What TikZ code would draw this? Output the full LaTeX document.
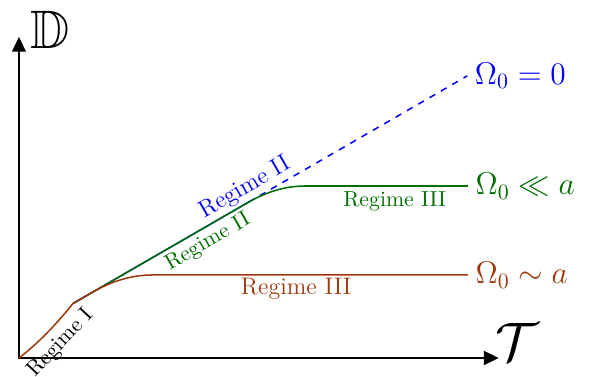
\documentclass[tikz,border=0pt]{standalone}
\usepackage{amssymb}
\usetikzlibrary{arrows.meta}
\definecolor{regblue}{RGB}{0,0,255}
\definecolor{reggreen}{RGB}{0,110,0}
\definecolor{regbrown}{RGB}{160,55,10}
\begin{document}
\begin{tikzpicture}[
    axis/.style={line width=1.1pt, {Triangle[length=0.24cm, width=0.22cm]}-{Triangle[length=0.24cm, width=0.22cm]}},
    curve/.style={line width=0.7pt},
    endlabel/.style={right, font=\Large},
    biglabel/.style={font=\fontsize{11}{13}\selectfont},
  ]
    \useasboundingbox (-0.306,-0.306) rectangle (9.21,5.774);

    % axes
    \coordinate (o) at (0,0);
    \coordinate (ytip) at (0,5.18);
    \coordinate (xtip) at (7.74,0);
    \draw[axis] (ytip) -- (o) -- (xtip);
    \node (dlabel) at (0.5,5.30) {\Huge$\mathbb{D}$};
    \node (tlabel) at (8.04,0.26) {\Huge$\mathcal{T}$};

    % points on the curves
    \coordinate (kink) at (0.871,0.879);
    \coordinate (bsplit) at (3.70,2.512);
    \coordinate (bend) at (7.23,4.550);
    \coordinate (gend) at (7.24,2.774);
    \coordinate (rend) at (7.24,1.339);

    \draw[curve, regblue] (kink) -- (bsplit);
    \draw[curve, regblue, dashed] (bsplit) -- (bend);
    \draw[curve, reggreen] (kink) -- (bsplit) .. controls (4.003,2.686) and (4.307,2.774) .. (4.61,2.774) -- (gend);
    \draw[curve, regbrown] (o) .. controls (0.287,0.22) and (0.577,0.513) .. (kink) -- (1.19,1.063)
        .. controls (1.509,1.247) and (1.829,1.339) .. (2.15,1.339) -- (rend);

    % labels
    \node[endlabel, regblue] (om0) at (bend) {$\Omega_0 = 0$};
    \node[endlabel, reggreen] (omll) at (gend) {$\Omega_0 \ll a$};
    \node[endlabel, regbrown] (omsim) at (rend) {$\Omega_0 \sim a$};

    \node[biglabel, regblue, rotate=30] (r2blue) at (3.65,2.74) {Regime II};
    \node[reggreen, rotate=30] (r2green) at (3.05,1.87) {Regime II};
    \node[reggreen] (r3green) at (6.06,2.53) {Regime III};
    \node[biglabel, regbrown] (r3brown) at (4.47,1.11) {Regime III};
    \node[rotate=47] (r1) at (0.68,0.24) {Regime I};
\end{tikzpicture}
\end{document}
